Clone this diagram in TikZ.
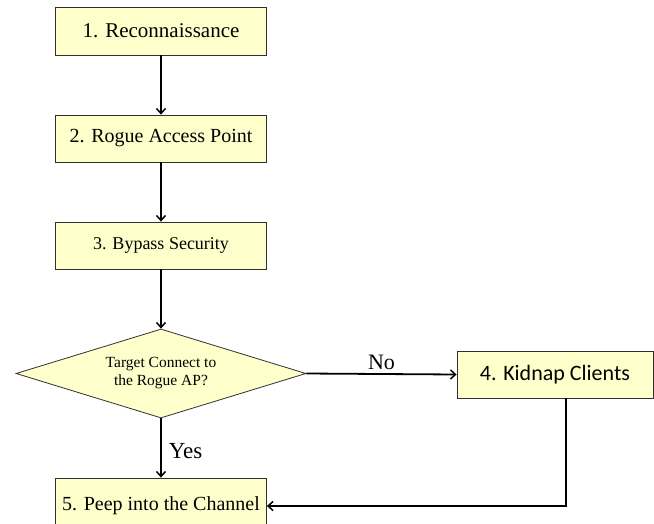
\documentclass[tikz,border=0pt]{standalone}
\usepackage{fontspec}
\setmainfont{Liberation Serif}
\newfontfamily\calib{Carlito}
\usetikzlibrary{shapes.geometric,arrows.meta}
\definecolor{boxfill}{HTML}{FFFFCC}
\definecolor{boxline}{HTML}{303030}
\tikzset{
  stepbox/.style={draw=boxline, line width=0.8pt, fill=boxfill, inner sep=0pt, align=center, minimum width=211pt},
  decide/.style={diamond, aspect=3.26, draw=boxline, line width=0.8pt, fill=boxfill, inner sep=0pt, align=center, minimum width=290pt, minimum height=89pt},
  flow/.style={line width=1.8pt, -{Straight Barb[length=5pt,width=9pt,line width=1.5pt]}},
  lbl/.style={inner sep=0pt}
}
\begin{document}
\begin{tikzpicture}[x=1pt,y=-1pt]
\useasboundingbox (0,0) rectangle (654,523);
\node[stepbox, minimum height=48pt, font=\fontsize{21}{24}\selectfont] (b1) at (161,31) {1. Reconnaissance};
\node[stepbox, minimum height=47pt, font=\fontsize{20}{24}\selectfont] (b2) at (161,138.5) {2. Rogue Access Point};
\node[stepbox, minimum height=47pt, font=\fontsize{18}{22}\selectfont] (b3) at (161,245.5) {3. Bypass Security};
\node[decide, font=\fontsize{15.5}{18}\selectfont] (d) at (161,373.5) {Target Connect to\\the Rogue AP?};
\node[stepbox, minimum width=196pt, minimum height=47pt, font=\calib\fontsize{22}{26}\selectfont] (b4) at (555,374.5) {4. Kidnap Clients};
\node[stepbox, minimum height=56pt, font=\fontsize{20}{24}\selectfont] (b5) at (161,506) {5. Peep into the Channel};
\draw[flow] (b1) -- (b2);
\draw[flow] (b2) -- (b3);
\draw[flow] (b3) -- (d);
\draw[flow] (d.east) -- (b4.west) node[lbl, midway, above=3pt, font=\fontsize{22}{24}\selectfont] {No};
\draw[flow] (d.south) -- (b5.north) node[lbl, pos=0.55, right=7pt, font=\fontsize{23}{26}\selectfont] {Yes};
\coordinate (turn) at (566,506);
\draw[flow] (b4.south -| turn) -- (turn) -- (b5.east);
\end{tikzpicture}
\end{document}
